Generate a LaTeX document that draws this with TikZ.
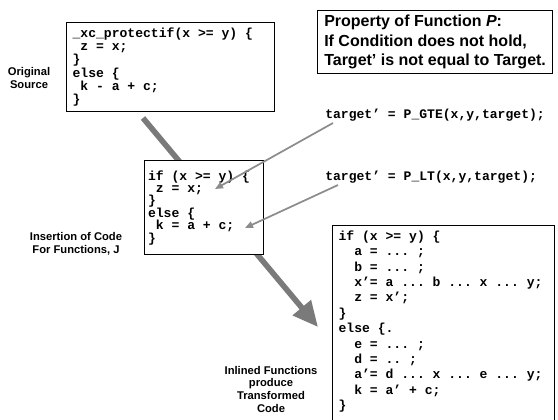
\documentclass[tikz,border=0pt]{standalone}
\usepackage{fontspec}
\setmainfont{Liberation Sans}
\newfontfamily\codefont{Liberation Mono}
\usetikzlibrary{arrows.meta}
\newcommand{\indA}{\hspace*{0.6em}}
\newcommand{\indB}{\hspace*{1.2em}}
\tikzset{
  codebox/.style={draw, line width=0.9pt, fill=white, anchor=north west, align=left,
    inner xsep=4.5pt, inner ysep=0pt,
    font=\codefont\bfseries\frenchspacing\fontsize{9.8pt}{9.9pt}\selectfont,
    % keep every blank as wide as a letter
    execute at begin node={\spaceskip=0.6em\xspaceskip=0.6em\relax}},
  codetext/.style={anchor=west, inner sep=0pt,
    font=\codefont\bfseries\frenchspacing\fontsize{9.8pt}{9.9pt}\selectfont},
  propbox/.style={draw, line width=0.9pt, anchor=north west, align=left,
    inner xsep=5pt, inner ysep=3.5pt, font=\bfseries\fontsize{12pt}{14.6pt}\selectfont},
  note/.style={align=center, inner sep=0pt, font=\bfseries\fontsize{8.4pt}{9.5pt}\selectfont},
  flow/.style={line width=4.2pt, draw=black!52, -{Triangle[width=17pt,length=19pt]}},
  pointer/.style={draw=black!45, line width=1.3pt, -{Triangle[width=5pt,length=6pt]}}
}
\begin{document}
\begin{tikzpicture}[x=0.75pt, y=-0.75pt]
\useasboundingbox (0,0) rectangle (558,419);
% Main flow arrow (behind the boxes)
\coordinate (flowstart) at (143,118);
\coordinate (flowend) at (318,327);
\draw[flow] (flowstart) -- (flowend);
% Property box
\node[propbox] (prop) at (317,10) {Property of Function \textit{P}:\\If Condition does not hold,\\Target’ is not equal to Target.};
% Original source
\node[codebox, text width=147pt, minimum height=66.75pt] (src) at (66,22)
  {\_xc\_protectif(x >= y) \{\\\indA z = x;\\\}\\else \{\\\indA k - a + c;\\\}};
\node[note] (srclbl) at (29,78) {Original\\Source};
% Inserted calls
\node[codebox, text width=84pt, inner xsep=2.6pt, minimum height=70.5pt,
  font=\codefont\bfseries\frenchspacing\fontsize{9.8pt}{9.3pt}\selectfont] (ins) at (144,160)
  {if (x >= y) \{\\\indA z = x;\\\}\\else \{\\\indA k = a + c;\\\}};
\node[note] (inslbl) at (76,244) {Insertion of Code\\For Functions, J};
\node[codetext] (gte) at (325,115) {target’ = P\_GTE(x,y,target);};
\node[codetext] (lt) at (325,177) {target’ = P\_LT(x,y,target);};
\coordinate (zx) at (215,189);
\coordinate (kac) at (245,228);
\draw[pointer] ([shift={(8,8)}]gte.west) -- (zx);
\draw[pointer] ([shift={(13,8)}]lt.west) -- (kac);
% Transformed code (runs off the bottom edge)
\node[codebox, text width=157.5pt, inner ysep=3.8pt, text depth=145pt,
  font=\codefont\bfseries\frenchspacing\fontsize{9.8pt}{11.55pt}\selectfont] (out) at (332,225)
  {if (x >= y) \{\\\indB a = ... ;\\\indB b = ... ;\\\indB x’= a ... b ... x ... y;\\\indB z = x’;\\\}\\
   else \{.\\\indB e = ... ;\\\indB d = .. ;\\\indB a’= d ... x ... e ... y;\\\indB k = a’ + c;\\\}};
\node[note] (inllbl) at (271,389) {Inlined Functions\\produce\\Transformed\\Code};
\end{tikzpicture}
\end{document}
